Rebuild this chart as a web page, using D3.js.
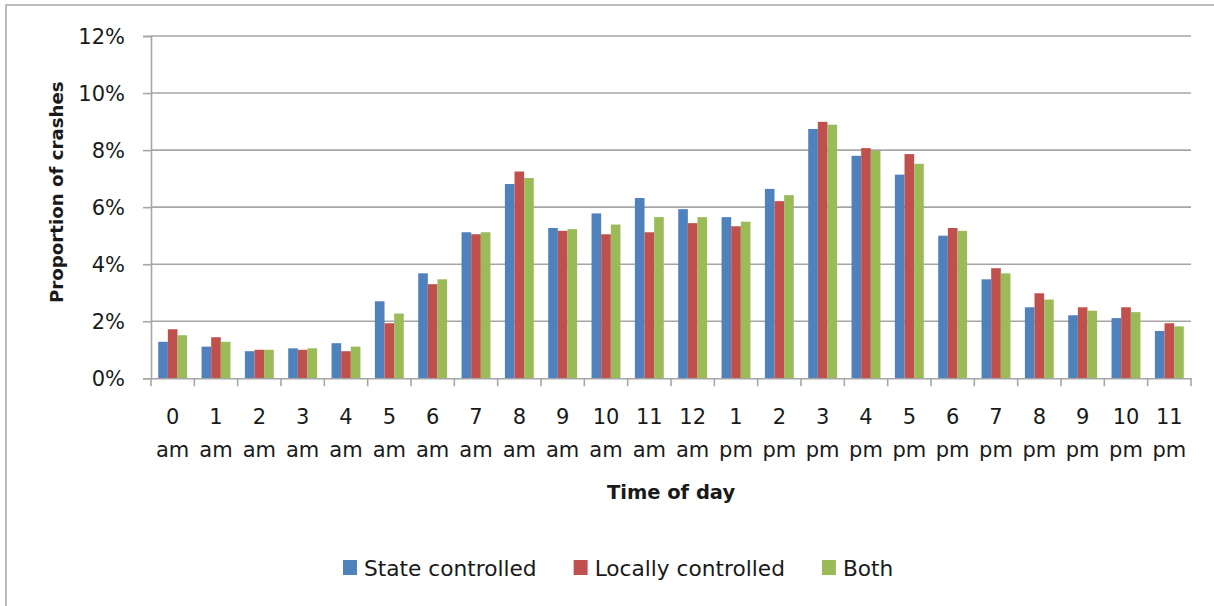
<!DOCTYPE html>
<html>
<head>
<meta charset="utf-8">
<script src="https://cdn.jsdelivr.net/npm/d3@7"></script>
<style>
  html, body { margin: 0; padding: 0; background: #fff; }
  svg { display: block; font-family: "DejaVu Sans", sans-serif; }
</style>
</head>
<body>
<svg id="chart" width="1214" height="606"></svg>
<script>
const hourNumbers = ["0","1","2","3","4","5","6","7","8","9","10","11","12","1","2","3","4","5","6","7","8","9","10","11"];
const hourSuffix = ["am","am","am","am","am","am","am","am","am","am","am","am","am","pm","pm","pm","pm","pm","pm","pm","pm","pm","pm","pm"];
const seriesNames = ["State controlled", "Locally controlled", "Both"];
const seriesColors = ["#4F81BD", "#C0504D", "#9BBB59"];
const stateControlled = [1.28,1.11,0.95,1.05,1.23,2.70,3.68,5.12,6.81,5.27,5.78,6.32,5.93,5.65,6.64,8.74,7.80,7.14,5.00,3.47,2.49,2.21,2.11,1.66];
const locallyControlled = [1.72,1.44,1.00,1.00,0.95,1.93,3.30,5.05,7.25,5.17,5.05,5.12,5.44,5.33,6.21,8.99,8.07,7.86,5.27,3.86,2.98,2.49,2.49,1.93];
const both = [1.51,1.28,1.00,1.05,1.11,2.27,3.47,5.12,7.02,5.23,5.39,5.65,5.65,5.49,6.42,8.89,7.98,7.52,5.17,3.68,2.76,2.37,2.32,1.82];
const yTicks = [0,2,4,6,8,10,12];

(function () {
const seriesValues = [stateControlled, locallyControlled, both];
const svg = d3.select("#chart");
const gridColor = "#a6a6a6";
const textColor = "#1a1a1a";

// outer chart border (left and top visible)
svg.append("rect").attr("x", 6).attr("y", 5).attr("width", 1400).attr("height", 800)
  .attr("fill", "none").attr("stroke", gridColor).attr("stroke-width", 1.5);

const pLeft = 151, pRight = 1191, pTop = 36, pBottom = 378.3;
const cats = d3.range(hourNumbers.length);
const x = d3.scaleBand().domain(cats).range([pLeft, pRight]).padding(0);
const bw = x.bandwidth();
const x1 = d3.scaleBand().domain([0,1,2]).range([bw * 0.75 / 4.5, bw - bw * 0.75 / 4.5]).padding(0);
const y = d3.scaleLinear().domain([0, 12]).range([pBottom, pTop]);

// gridlines
svg.append("g").selectAll("line").data(yTicks.filter(d => d > 0)).join("line")
  .attr("x1", pLeft).attr("x2", pRight)
  .attr("y1", d => y(d)).attr("y2", d => y(d))
  .attr("stroke", gridColor).attr("stroke-width", 1.6);

// y axis
const yAxis = d3.axisLeft(y).tickValues(yTicks).tickSize(8).tickPadding(18)
  .tickFormat(d => d + "%");
const gy = svg.append("g").attr("transform", `translate(${pLeft},0)`).call(yAxis);
gy.select(".domain").attr("stroke", gridColor).attr("stroke-width", 1.6);
gy.selectAll(".tick line").attr("stroke", gridColor).attr("stroke-width", 1.6);
gy.selectAll(".tick text").attr("fill", textColor).style("font-size", "21px")
  .style("font-family", "'DejaVu Sans', sans-serif").attr("dy", "0.36em");

// bars
const groups = svg.append("g").selectAll("g").data(cats).join("g")
  .attr("transform", d => `translate(${x(d)},0)`);
groups.selectAll("rect").data(i => seriesValues.map((vals, s) => ({ s, v: vals[i] }))).join("rect")
  .attr("x", d => x1(d.s))
  .attr("width", x1.bandwidth())
  .attr("y", d => y(d.v))
  .attr("height", d => y(0) - y(d.v))
  .attr("fill", d => seriesColors[d.s]);

// x axis
const xAxis = d3.axisBottom(x).tickSize(0).tickFormat("");
const gx = svg.append("g").attr("transform", `translate(0,${pBottom})`).call(xAxis);
gx.select(".domain").attr("stroke", gridColor).attr("stroke-width", 1.6);
// category boundary ticks
svg.append("g").selectAll("line").data(d3.range(hourNumbers.length + 1)).join("line")
  .attr("x1", i => pLeft + i * bw).attr("x2", i => pLeft + i * bw)
  .attr("y1", pBottom).attr("y2", pBottom + 8)
  .attr("stroke", gridColor).attr("stroke-width", 1.6);

// x labels (two lines)
const xl = svg.append("g");
xl.selectAll("text.num").data(cats).join("text").attr("class", "num")
  .attr("x", d => x(d) + bw / 2).attr("y", 423.5)
  .attr("text-anchor", "middle").attr("fill", textColor).style("font-size", "21px")
  .text(d => hourNumbers[d]);
xl.selectAll("text.suf").data(cats).join("text").attr("class", "suf")
  .attr("x", d => x(d) + bw / 2).attr("y", 457)
  .attr("text-anchor", "middle").attr("fill", textColor).style("font-size", "21px")
  .text(d => hourSuffix[d]);

// axis titles
svg.append("text").attr("x", (pLeft + pRight) / 2).attr("y", 499)
  .attr("text-anchor", "middle").attr("fill", textColor)
  .style("font-size", "19.5px").style("font-weight", "bold").text("Time of day");
svg.append("text").attr("transform", `translate(63,${(pTop + pBottom) / 2 - 15}) rotate(-90)`)
  .attr("text-anchor", "middle").attr("fill", textColor)
  .style("font-size", "18.2px").style("font-weight", "bold").text("Proportion of crashes");

// legend
const legend = svg.append("g");
let lx = 343;
seriesNames.forEach((name, i) => {
  legend.append("rect").attr("x", lx).attr("y", 560).attr("width", 14).attr("height", 15)
    .attr("fill", seriesColors[i]);
  const t = legend.append("text").attr("x", lx + 21).attr("y", 575.5)
    .attr("fill", textColor).style("font-size", "21.7px").text(name);
  lx += 21 + t.node().getComputedTextLength() + 37;
});
})();
</script>
</body>
</html>
